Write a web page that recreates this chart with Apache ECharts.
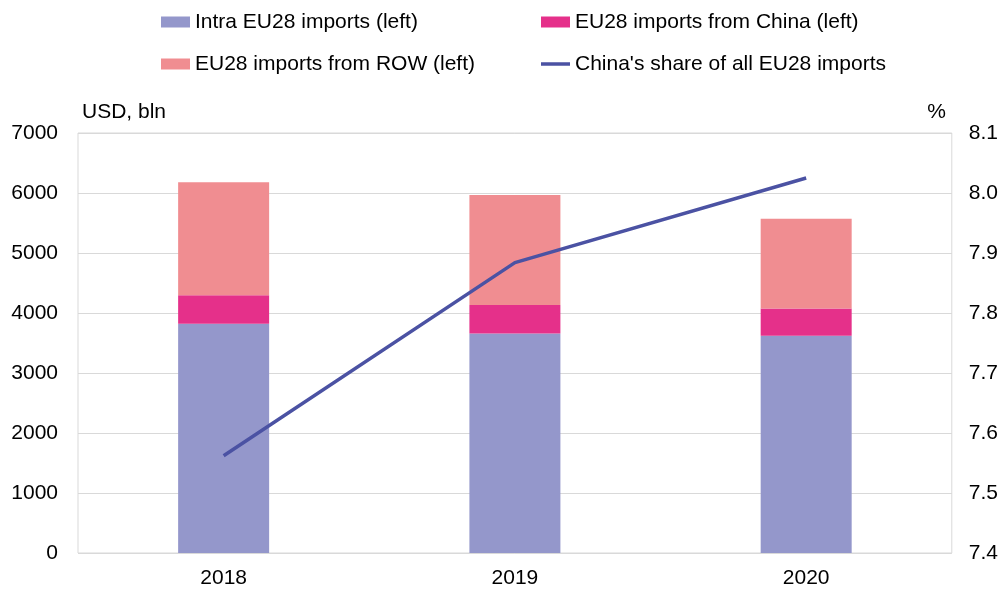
<!DOCTYPE html>
<html>
<head>
<meta charset="utf-8">
<script src="https://cdn.jsdelivr.net/npm/echarts@6/dist/echarts.min.js"></script>
<style>html,body{margin:0;padding:0;background:#fff}#c{width:1001px;height:589px}</style>
</head>
<body>
<div id="c"></div>
<script>
const categories = ['2018', '2019', '2020'];
const intraEU = [3820, 3660, 3620];
const fromChina = [475, 472, 455];
const fromROW = [1883, 1835, 1495];
const chinaShare = [7.562, 7.884, 8.025];
const seriesNames = ['Intra EU28 imports (left)', 'EU28 imports from China (left)', 'EU28 imports from ROW (left)', "China's share of all EU28 imports"];

const font = 'Liberation Sans, Arial, sans-serif';
const chart = echarts.init(document.getElementById('c'));
const legendText = { fontSize: 21, color: '#000', fontFamily: font, lineHeight: 24 };
const lineIcon = 'path://M0,0 L29,0 Z M0,3.7 L29,3.7 L29,7.3 L0,7.3 Z M0,11 L29,11 Z';
chart.setOption({
  animation: false,
  textStyle: { fontFamily: font },
  legend: [
    { left: 161, top: 10, padding: 0, orient: 'vertical', itemGap: 18, itemWidth: 29, itemHeight: 11,
      data: [{name: seriesNames[0], icon: 'rect'}, {name: seriesNames[2], icon: 'rect'}],
      textStyle: legendText },
    { left: 541, top: 10, padding: 0, orient: 'vertical', itemGap: 18, itemWidth: 29, itemHeight: 11,
      data: [{name: seriesNames[1], icon: 'rect'},
             {name: seriesNames[3], icon: lineIcon, itemStyle: { color: '#4B52A3', borderWidth: 0 }}],
      textStyle: legendText }
  ],
  grid: { left: 78, right: 49, top: 133, bottom: 36, show: true, borderColor: '#D9D9D9', borderWidth: 1 },
  xAxis: {
    type: 'category', data: categories,
    axisLine: { show: false }, axisTick: { show: false },
    axisLabel: { fontSize: 21, color: '#000', margin: 15 }
  },
  yAxis: [
    { type: 'value', min: 0, max: 7000, interval: 1000, name: 'USD, bln',
      nameLocation: 'end', nameGap: 10,
      nameTextStyle: { fontSize: 21, color: '#000', align: 'left', padding: [0,0,0,4] },
      axisLine: { show: false }, axisTick: { show: false },
      axisLabel: { fontSize: 21, color: '#000', margin: 20, formatter: v => String(v) },
      splitLine: { lineStyle: { color: '#D9D9D9', width: 1 } } },
    { type: 'value', min: 7.4, max: 8.1, interval: 0.1, name: '%',
      nameLocation: 'end', nameGap: 10,
      nameTextStyle: { fontSize: 21, color: '#000', align: 'right', padding: [0,6,0,0] },
      axisLine: { show: false }, axisTick: { show: false },
      axisLabel: { fontSize: 21, color: '#000', margin: 17, formatter: v => v.toFixed(1) },
      splitLine: { show: false } }
  ],
  series: [
    { name: seriesNames[0], type: 'bar', stack: 'a', data: intraEU, barWidth: 91, itemStyle: { color: '#9497CB' } },
    { name: seriesNames[1], type: 'bar', stack: 'a', data: fromChina, itemStyle: { color: '#E5308A' } },
    { name: seriesNames[2], type: 'bar', stack: 'a', data: fromROW, itemStyle: { color: '#F08D91' } },
    { name: seriesNames[3], type: 'line', yAxisIndex: 1, data: chinaShare, symbol: 'none',
      lineStyle: { color: '#4B52A3', width: 3.5 }, itemStyle: { color: '#4B52A3' } }
  ]
});
</script>
</body>
</html>
